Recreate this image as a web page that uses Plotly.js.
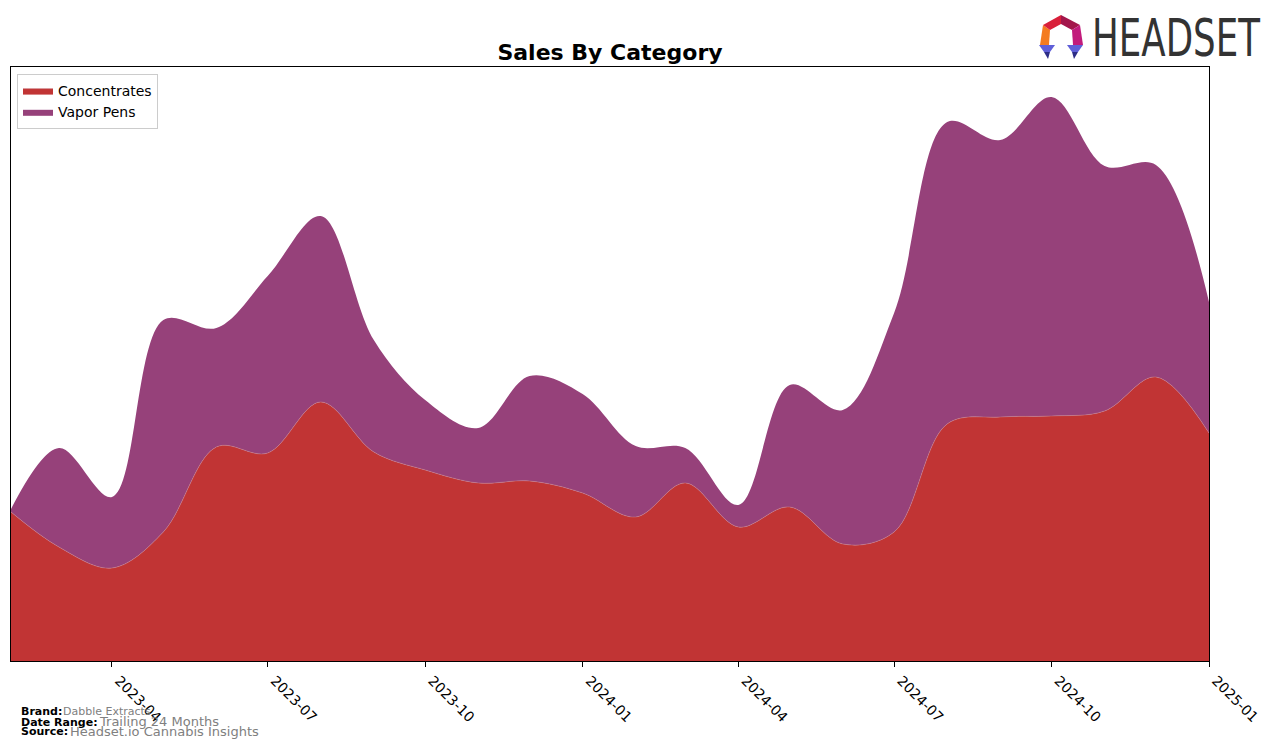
<!DOCTYPE html>
<html>
<head>
<meta charset="utf-8">
<script src="https://cdn.plot.ly/plotly-3.0.1.min.js"></script>
<style>
html,body{margin:0;padding:0;background:#fff;}
#wrap{position:relative;width:1276px;height:748px;}
#chart{width:1276px;height:748px;}
#brand{position:absolute;left:0;top:0;pointer-events:none;}
</style>
</head>
<body>
<div id="wrap">
<div id="chart"></div>
<svg id="brand" width="1276" height="80" xmlns="http://www.w3.org/2000/svg">
  <text x="1092" y="56" font-family="DejaVu Sans" font-size="51" fill="#333333" textLength="168" lengthAdjust="spacingAndGlyphs">HEADSET</text>
</svg>
</div>
<script>
var months = ['2023-02-01','2023-03-01','2023-04-01','2023-05-01','2023-06-01','2023-07-01','2023-08-01','2023-09-01','2023-10-01','2023-11-01','2023-12-01','2024-01-01','2024-02-01','2024-03-01','2024-04-01','2024-05-01','2024-06-01','2024-07-01','2024-08-01','2024-09-01','2024-10-01','2024-11-01','2024-12-01','2025-01-01'];
var concentrates = [149,114,93,129,214,208,259,209,191,178,180,168,144,178,134,154,117,129,237,244,245,250,284,228];
var vaporPens = [3,99,71,212,119,177,186,112,70,55,105,99,71,35,22,122,134,219,302,277,319,245,212,131];
var tickFormat = '%Y-%m';

// plot-area geometry in page pixels (for converting overlay positions)
var L = 11, R = 1209, T = 67, B = 661;
function px(x){ return (x - L) / (R - L); }
function py(y){ return (B - y) / (B - T); }
function path(pts){
  return 'M' + pts.map(function(p){ return px(p[0]) + ',' + py(p[1]); }).join(' L') + ' Z';
}
function logoShape(pts, color){
  return {type:'path', xref:'paper', yref:'paper', path:path(pts), fillcolor:color, line:{width:0}, layer:'above'};
}

var traces = [
  {x:months, y:concentrates, name:'Concentrates', type:'scatter', mode:'lines', stackgroup:'one',
   line:{shape:'spline', smoothing:1, width:0.6, color:'rgba(205,130,140,0.8)'}, fillcolor:'#c13434'},
  {x:months, y:vaporPens, name:'Vapor Pens', type:'scatter', mode:'lines', stackgroup:'one',
   line:{shape:'spline', smoothing:1, width:0, color:'#96417a'}, fillcolor:'#96417a'}
];

var grayTxt = '#808080';
var layout = {
  width:1276, height:748,
  margin:{l:L, r:1276-R, t:T, b:748-B},
  paper_bgcolor:'#fff', plot_bgcolor:'#fff',
  font:{family:'DejaVu Sans', size:14, color:'#000'},
  title:{text:'<b>Sales By Category</b>', font:{family:'DejaVu Sans', size:22, color:'#000'}, x:px(610), xref:'paper', xanchor:'center', y:1-52/748, yanchor:'middle'},
  showlegend:true,
  legend:{x:px(17), y:py(74), xanchor:'left', yanchor:'top', bgcolor:'#fff', bordercolor:'#cccccc', borderwidth:1, font:{size:14}, tracegroupgap:0, traceorder:'normal'},
  xaxis:{type:'date', range:['2023-02-01','2025-01-01'], tick0:'2023-01-01', dtick:'M3', tickformat:tickFormat,
         tickangle:45, ticks:'outside', ticklen:5, tickcolor:'#000', showgrid:false, zeroline:false, ticklabelshift:7,
         showline:true, linecolor:'#000', linewidth:1, mirror:true, tickfont:{size:14, color:'#000'}},
  yaxis:{range:[0,594], showticklabels:false, ticks:'', showgrid:false, zeroline:false,
         showline:true, linecolor:'#000', linewidth:1, mirror:true, fixedrange:true},
  shapes:[
    logoShape([[1040,45],[1043,25],[1050,30],[1049,45]], '#f47b20'),
    logoShape([[1043,25],[1061,15],[1061,24],[1050,30]], '#d9203a'),
    logoShape([[1061,15],[1080,25],[1072,30],[1061,24]], '#a3164b'),
    logoShape([[1080,25],[1083,45],[1073,45],[1072,30]], '#c21b7c'),
    logoShape([[1039,45],[1055,45],[1050,52],[1044,52]], '#5f5fd8'),
    logoShape([[1044,52],[1050,52],[1048,59]], '#2c2c86'),
    logoShape([[1067,45],[1083,45],[1078,52],[1072,52]], '#5f5fd8'),
    logoShape([[1072,52],[1078,52],[1074,59]], '#2c2c86')
  ],
  annotations:[
    {xref:'paper', yref:'paper', x:px(19), y:py(711), xanchor:'left', yanchor:'middle', showarrow:false,
     text:'<b>Brand:</b>', font:{size:11, color:'#000'}},
    {xref:'paper', yref:'paper', x:px(61), y:py(711), xanchor:'left', yanchor:'middle', showarrow:false,
     text:'Dabble Extracts', font:{size:11, color:grayTxt}},
    {xref:'paper', yref:'paper', x:px(19), y:py(722), xanchor:'left', yanchor:'middle', showarrow:false,
     text:'<b>Date Range:</b>', font:{size:11, color:'#000'}},
    {xref:'paper', yref:'paper', x:px(97), y:py(721), xanchor:'left', yanchor:'middle', showarrow:false,
     text:'Trailing 24 Months', font:{size:13, color:grayTxt}},
    {xref:'paper', yref:'paper', x:px(19), y:py(731), xanchor:'left', yanchor:'middle', showarrow:false,
     text:'<b>Source:</b>', font:{size:11, color:'#000'}},
    {xref:'paper', yref:'paper', x:px(68), y:py(731), xanchor:'left', yanchor:'middle', showarrow:false,
     text:'Headset.io Cannabis Insights', font:{size:13, color:grayTxt}}
  ]
};

Plotly.newPlot('chart', traces, layout, {displayModeBar:false, staticPlot:true});
</script>
</body>
</html>
